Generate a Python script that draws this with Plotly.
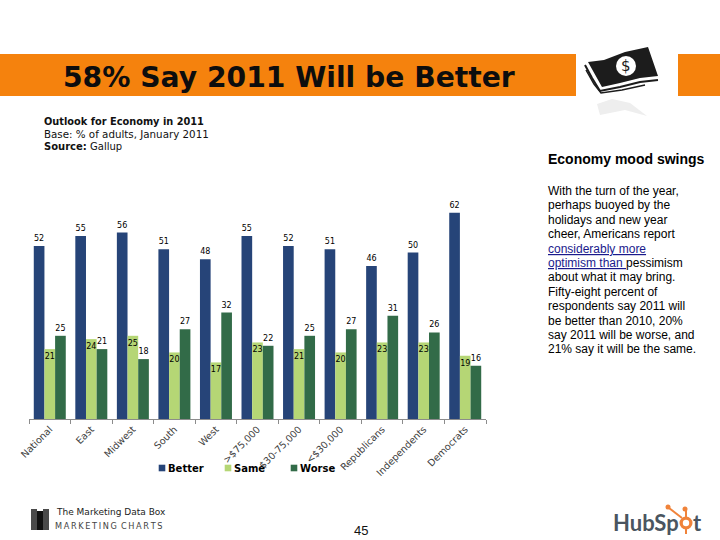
import plotly.graph_objects as go

W, H = 720, 540
categories = ["National", "East", "Midwest", "South", "West", "&gt;$75,000", "$30-75,000",
              "&lt;$30,000", "Republicans", "Independents", "Democrats"]
better = [52, 55, 56, 51, 48, 55, 52, 51, 46, 50, 62]
same = [21, 24, 25, 20, 17, 23, 21, 20, 23, 23, 19]
worse = [25, 21, 18, 27, 32, 22, 25, 27, 31, 26, 16]

title = "58% Say 2011 Will be Better"
sub_lines = ["<b>Outlook for Economy in 2011</b>", "Base: % of adults, January 2011", "<b>Source:</b> Gallup"]
sub_sizes = [9.8, 10.3, 10]
side_head = "Economy mood swings"
side_lines = ["With the turn of the year,", "perhaps buoyed by the", "holidays and new year",
              "cheer, Americans report", "<u>considerably more</u>", "<u>optimism than </u>pessimism",
              "about what it may bring.", "Fifty-eight percent of", "respondents say 2011 will",
              "be better than 2010, 20%", "say 2011 will be worse, and", "21% say it will be the same."]

C_BETTER, C_SAME, C_WORSE = "#264478", "#b5d675", "#326b48"
ORANGE = "#f5820d"
DV = "DejaVu Sans"
AR = "Liberation Sans"


def px(x):
    return x / W


def py(y):
    return 1 - y / H


def note(text, x, y, size, family=DV, color="#111111", xanchor="left", **kw):
    return dict(text=text, x=px(x), y=py(y), xref="paper", yref="paper", showarrow=False,
                xanchor=xanchor, yanchor="middle", align="left", borderpad=0,
                font=dict(size=size, family=family, color=color), **kw)


def rect(x0, y0, x1, y1, color):
    return dict(type="rect", xref="paper", yref="paper", x0=px(x0), x1=px(x1), y0=py(y0), y1=py(y1),
                fillcolor=color, line=dict(width=0), layer="below")


def path(points, fill=None, line=None, width=0, close=True):
    d = "M" + " L".join(f"{px(a):.5f},{py(b):.5f}" for a, b in points) + (" Z" if close else "")
    return dict(type="path", xref="paper", yref="paper", path=d,
                fillcolor=fill if fill else "rgba(0,0,0,0)",
                line=dict(color=line if line else "rgba(0,0,0,0)", width=width))


def disc(cx, cy, r, color):
    return dict(type="circle", xref="paper", yref="paper", x0=px(cx - r), x1=px(cx + r),
                y0=py(cy + r), y1=py(cy - r), fillcolor=color, line=dict(width=0))


fig = go.Figure()
for name, vals, col, pos in [("Better", better, C_BETTER, "outside"),
                             ("Same", same, C_SAME, "inside"),
                             ("Worse", worse, C_WORSE, "outside")]:
    fig.add_bar(x=categories, y=vals, name=name, marker=dict(color=col, line=dict(width=0)),
                text=vals, textposition=pos, insidetextanchor="end", textangle=0,
                constraintext="none", cliponaxis=False,
                textfont=dict(size=8, family=DV, color="#000000"))

shapes = [rect(0, 54, 576, 96, ORANGE), rect(678, 54, 720, 96, ORANGE)]
# bank-note icon
shapes += [
    path([(588, 62), (604, 60), (625, 52), (648, 47), (658, 76), (640, 78), (620, 83), (602, 87)], fill="#1c1c1c"),
    path([(585, 65), (592, 78), (600, 91), (620, 87), (640, 82), (658, 80)], line="#1c1c1c", width=2, close=False),
    path([(586, 70), (594, 84), (601, 93), (622, 90), (645, 85)], line="#1c1c1c", width=1.5, close=False),
    path([(597, 104), (612, 99), (630, 103), (647, 116), (625, 110), (600, 115)], fill="#eeeeee"),
    disc(626, 66, 10, "#ffffff"),
]
# Marketing Charts logo
shapes += [rect(31, 509, 37, 530, "#4a4a4a"), rect(37, 511, 43, 530, "#111111"), rect(43, 509, 49, 530, "#4a4a4a")]
# HubSpot sprocket
shapes += [
    disc(686, 523, 6.5, "#f0833a"), disc(686, 523, 3.2, "#ffffff"),
    disc(685, 509, 2.5, "#f0833a"), disc(668, 507, 2.5, "#f0833a"),
    path([(686, 511), (686, 517)], line="#f0833a", width=2, close=False),
    path([(669, 508), (682, 518)], line="#f0833a", width=2, close=False),
    path([(686, 529), (686, 534)], line="#f0833a", width=2, close=False),
]

ann = [note(f"<b>{title}</b>", 62, 77, 28.2, color="#0d0d0d")]
ann += [note(t, 43, 122 + i * 12, s) for i, (t, s) in enumerate(zip(sub_lines, sub_sizes))]
ann.append(note(f"<b>{side_head}</b>", 547, 159, 14, family=AR, color="#000000"))
for i, t in enumerate(side_lines):
    t2 = t.replace("<u>", '<span style="color:#1a1a8c"><u>').replace("</u>", "</u></span>")
    ann.append(note(t2, 547, 191 + i * 14.4, 12, family=AR, color="#000000"))
ann.append(note("45", 361, 530, 13, family=AR, xanchor="center"))
ann.append(note("The Marketing Data Box", 55, 512, 9, color="#222222"))
ann.append(note("\u2009".join("MARKETING") + "\u2002" + "\u2009".join("CHARTS"), 54, 526, 8.2, color="#444444"))
ann.append(note("<b>HubSp</b>", 612, 522, 22, family="Lato", color="#4a5560"))
ann.append(note("<b>t</b>", 692, 522, 22, family="Lato", color="#4a5560"))
ann.append(note("$", 626, 66, 15, color="#1c1c1c", xanchor="center"))

fig.update_layout(
    width=W, height=H, autosize=False, margin=dict(l=0, r=0, t=0, b=0, pad=0, autoexpand=False),
    paper_bgcolor="#ffffff", plot_bgcolor="#ffffff",
    barmode="group", bargap=0.23, bargroupgap=0,
    shapes=shapes, annotations=ann,
    font=dict(family=DV, color="#333333"),
    legend=dict(orientation="h", x=px(128), y=py(468), xanchor="left", yanchor="middle",
                entrywidth=21, entrywidthmode="pixels", itemclick=False, itemdoubleclick=False,
                font=dict(size=10, family=DV, color="#000000", weight="bold"),
                bgcolor="rgba(0,0,0,0)"),
    xaxis=dict(domain=[px(29), px(486)], type="category", tickangle=-45, tickson="boundaries",
               automargin=False, ticks="outside", ticklen=4, tickcolor="#8c8c8c", showline=True,
               linecolor="#8c8c8c", linewidth=1, showgrid=False,
               tickfont=dict(size=9.6, family=DV, color="#404040")),
    yaxis=dict(domain=[py(419), py(203)], range=[0, 64.9], visible=False, showgrid=False, fixedrange=True),
)
post = """
document.body.style.margin='0';document.body.style.overflow='hidden';
function nudge(){
document.querySelectorAll('.legend path.legendbar, .legend .legendpoints path').forEach(function(p){p.setAttribute('transform','translate(34,0) scale(0.55)');});
document.querySelectorAll('.legend .scrollbox').forEach(function(s){s.removeAttribute('clip-path');s.style.clipPath='none';});
}
nudge();setTimeout(nudge,50);setTimeout(nudge,300);
"""
fig.write_html("out.html", post_script=post, config=dict(displayModeBar=False))
